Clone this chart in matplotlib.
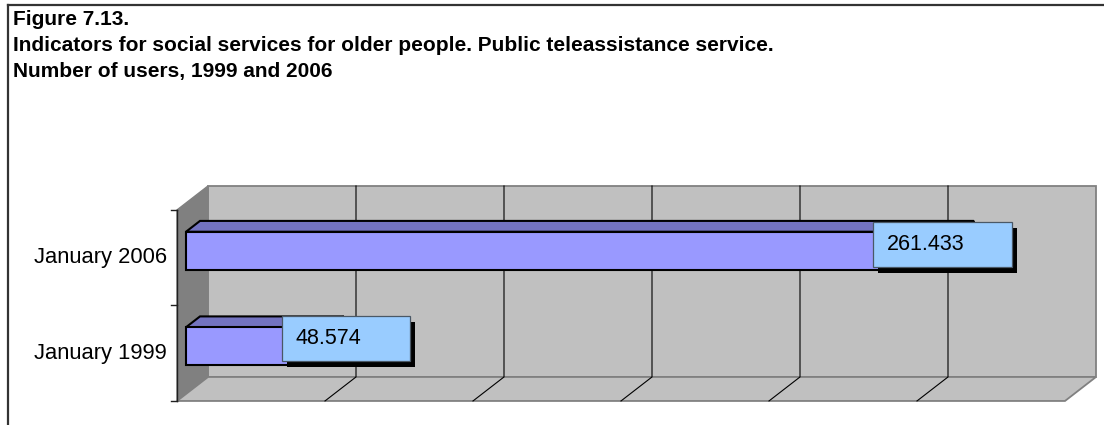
import matplotlib.pyplot as plt
from matplotlib.patches import Polygon, Rectangle

categories = ['January 1999', 'January 2006']
users = [48574, 261433]
value_labels = ['48.574', '261.433']
x_max = 300000
x_step = 50000
title_lines = ['Figure 7.13.',
               'Indicators for social services for older people. Public teleassistance service.',
               'Number of users, 1999 and 2006']

plt.rcParams['font.family'] = ['Liberation Sans', 'DejaVu Sans']

W, H = 1104, 425
fig = plt.figure(figsize=(W / 100, H / 100), dpi=100)
ax = fig.add_axes([0, 0, 1, 1])
ax.axis('off')

# data units per pixel (148 px per gridline step, 191 px for two categories)
K = x_step / 148.0
S = len(categories) / 191.0
ax.set_xlim(-186 * K, (W - 186) * K)
ax.set_ylim(-0.5 - 31 * S, -0.5 + (H - 31) * S)

# fake 3d: depth t from 0 (front) to 1 (back wall), bars sit between T0 and T1
T0, T1 = 9 / 31, 23 / 31
DX, DY = 31, 24


def p(v, y, t):
    return (v + (t - T0) * DX * K, y + (t - T0) * DY * S)


def poly(pts, **kw):
    ax.add_patch(Polygon(pts, closed=True, **kw))


ylo, yhi = -0.5, len(categories) - 0.5

# walls and floor
poly([p(0, ylo, 1), p(x_max, ylo, 1), p(x_max, yhi, 1), p(0, yhi, 1)],
     fc='#c0c0c0', ec='#808080', lw=1.3, zorder=1)
poly([p(0, ylo, 0), p(0, ylo, 1), p(0, yhi, 1), p(0, yhi, 0)],
     fc='#808080', ec='#808080', lw=1, zorder=1)
poly([p(0, ylo, 0), p(x_max, ylo, 0), p(x_max, ylo, 1), p(0, ylo, 1)],
     fc='#c0c0c0', ec='#808080', lw=1.3, zorder=1)

# gridlines on back wall and floor
for v in range(x_step, x_max, x_step):
    a, b, c = p(v, ylo, 0), p(v, ylo, 1), p(v, yhi, 1)
    ax.plot([a[0], b[0], c[0]], [a[1], b[1], c[1]], color='black', lw=0.8, zorder=2)

# category axis line with ticks
a, b = p(0, ylo, 0), p(0, yhi, 0)
ax.plot([a[0], b[0]], [a[1], b[1]], color='#202020', lw=1, zorder=3)
for y in [ylo + i for i in range(len(categories) + 1)]:
    q = p(0, y, 0)
    ax.plot([q[0] - 6 * K, q[0]], [q[1], q[1]], color='#202020', lw=1, zorder=3)

for i, cat in enumerate(categories):
    q = p(0, i, 0)
    ax.text(q[0] - 10 * K, q[1], cat, ha='right', va='center', fontsize=15.8, color='black')

# bars
h = 38 * S
for i, v in enumerate(users):
    top, bot = i + h / 2, i - h / 2
    poly([p(0, top, T0), p(v, top, T0), p(v, top, T1), p(0, top, T1)],
         fc='#7373c0', ec='black', lw=1.5, zorder=4)
    poly([p(v, bot, T0), p(v, top, T0), p(v, top, T1), p(v, bot, T1)],
         fc='#5c5c99', ec='black', lw=1.5, zorder=4)
    poly([p(0, bot, T0), p(v, bot, T0), p(v, top, T0), p(0, top, T0)],
         fc='#9999ff', ec='black', lw=1.5, zorder=5)

# value labels (box centre offset from bar end, in pixels)
label_dx = [16, -17.5]
label_dy = [8, 6]
box_w = [128, 139]
box_h = 45
for i, v in enumerate(users):
    cx = v + label_dx[i] * K
    cy = i + label_dy[i] * S
    left = cx - box_w[i] / 2 * K
    bottom = cy - box_h / 2 * S
    ax.add_patch(Rectangle((left + 5 * K, bottom - 6 * S), box_w[i] * K, box_h * S,
                           fc='black', ec='none', zorder=6))
    ax.add_patch(Rectangle((left, bottom), box_w[i] * K, box_h * S,
                           fc='#99ccff', ec='#4a5866', lw=0.9, zorder=7))
    ax.text(left + 14 * K, bottom + (box_h - 28) * S, value_labels[i],
            ha='left', va='baseline', fontsize=15.5, color='black', zorder=8)

# title
for j, line in enumerate(title_lines):
    fig.text(13 / W, 1 - (25 + 26 * j) / H, line, ha='left', va='baseline',
             fontsize=15, fontweight='bold', color='black')

# outer frame (cropped on the right and bottom)
fig.add_artist(plt.Line2D([7.5 / W, 7.5 / W], [0, 1 - 5 / H], color='#333333', lw=1.6))
fig.add_artist(plt.Line2D([7.5 / W, 1], [1 - 5 / H, 1 - 5 / H], color='#333333', lw=1.6))

fig.savefig('out.png', dpi=100)
